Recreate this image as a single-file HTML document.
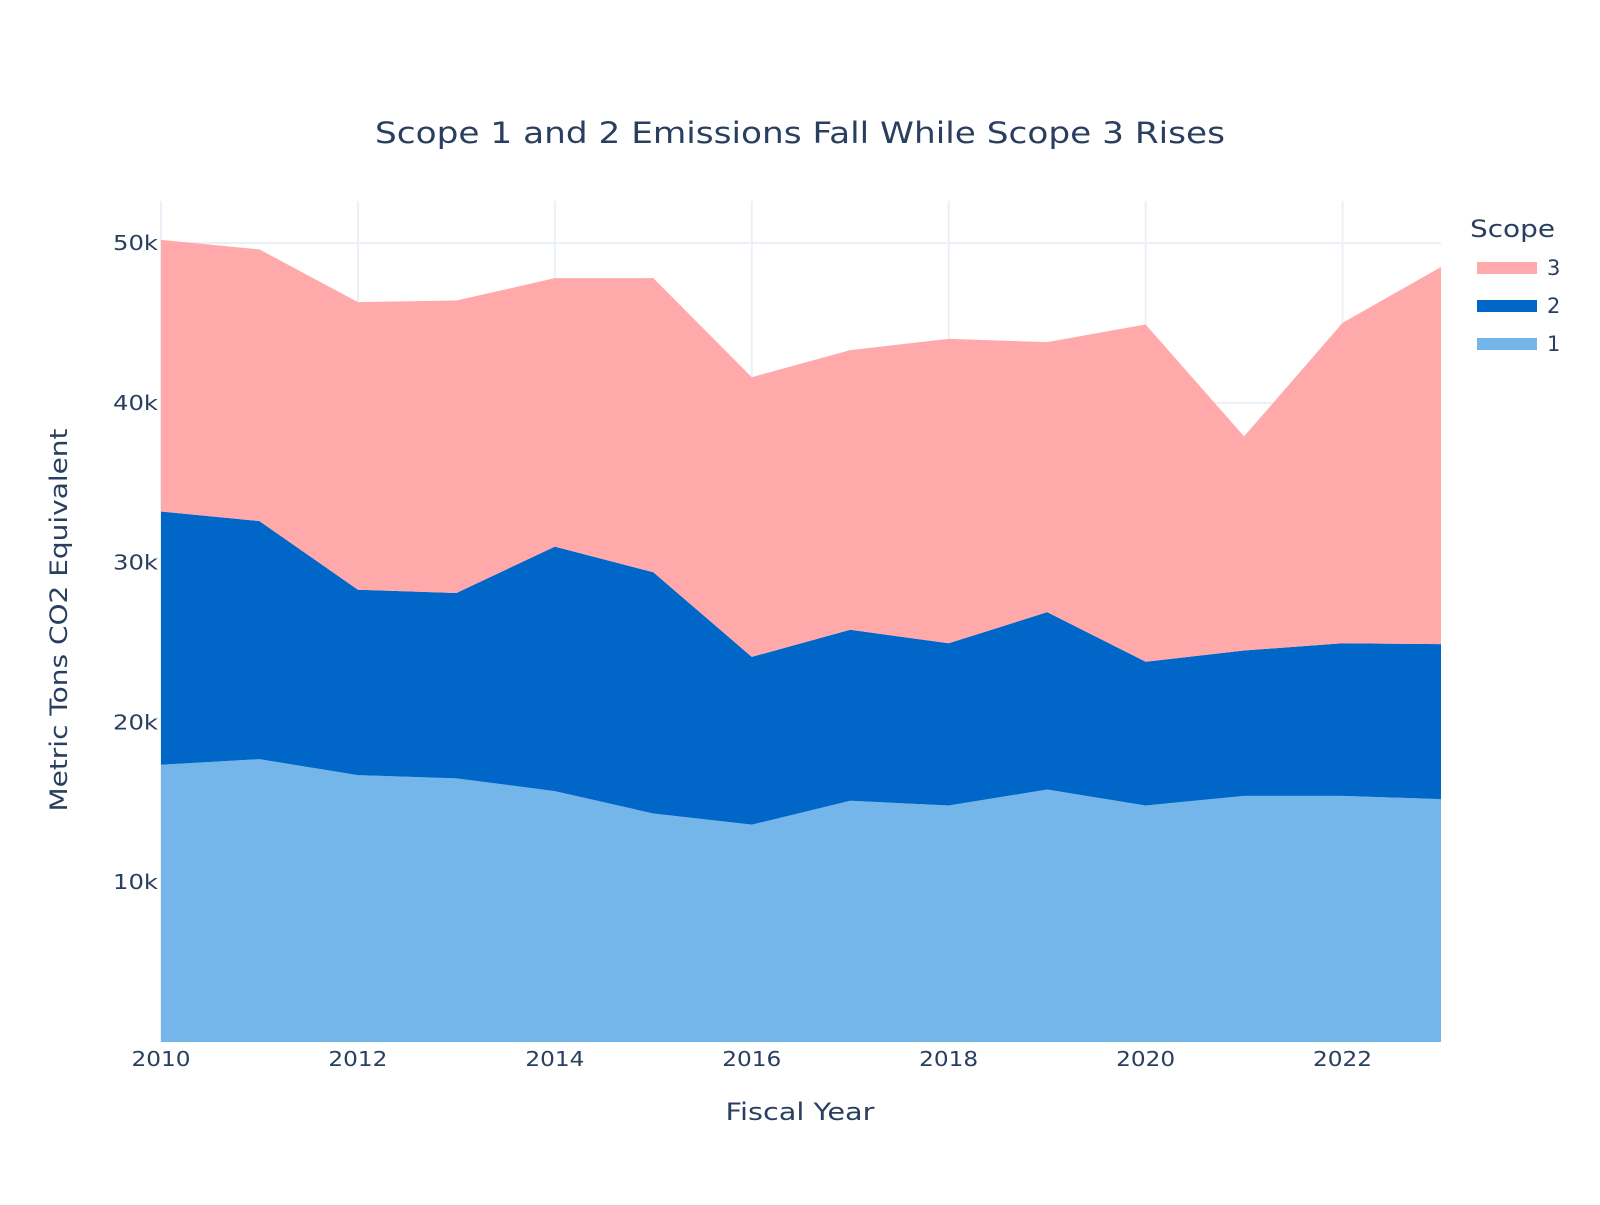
<!DOCTYPE html>
<html><head><meta charset="utf-8"><style>
body{margin:0;background:#fff;}
svg text{font-family:"DejaVu Sans","Liberation Sans",sans-serif;fill:#2a3f5f;}
</style></head><body>
<svg id="chart" width="1600" height="1200" viewBox="0 0 1600 1200" xmlns="http://www.w3.org/2000/svg">
<rect x="0" y="0" width="1600" height="1200" fill="#fff"/>
<g id="grid"></g>
<g id="areas"></g>
<g id="axes"></g>
<text x="800" y="143" text-anchor="middle" font-size="29" textLength="850" lengthAdjust="spacingAndGlyphs">Scope 1 and 2 Emissions Fall While Scope 3 Rises</text>
<text x="800" y="1120" text-anchor="middle" font-size="24" textLength="149" lengthAdjust="spacingAndGlyphs">Fiscal Year</text>
<text x="0" y="0" transform="translate(67,620) rotate(-90)" text-anchor="middle" font-size="24" textLength="383" lengthAdjust="spacingAndGlyphs">Metric Tons CO2 Equivalent</text>
<g id="legend"></g>
</svg>
<script>
const years = [2010,2011,2012,2013,2014,2015,2016,2017,2018,2019,2020,2021,2022,2023];
const scope1 = [17350,17700,16700,16500,15700,14300,13600,15100,14800,15800,14800,15400,15400,15200];
const scope2 = [15850,14900,11600,11600,15300,15100,10500,10700,10150,11100,9000,9100,9550,9700];
const scope3 = [17000,17000,18000,18300,16800,18400,17500,17500,19050,16900,21100,13400,20050,23600];
const yTicks = [10000,20000,30000,40000,50000];
const yTickLabels = ["10k","20k","30k","40k","50k"];
const xTicks = [2010,2012,2014,2016,2018,2020,2022];

const NS="http://www.w3.org/2000/svg";
const L=161,R=1441,T=201,B=1042;
const xMin=2010,xMax=2023,yMax=52630;
function xs(v){return L+(v-xMin)/(xMax-xMin)*(R-L);}
function ys(v){return B-v/yMax*(B-T);}
function mk(tag,attrs,parent){const e=document.createElementNS(NS,tag);for(const k in attrs)e.setAttribute(k,attrs[k]);parent.appendChild(e);return e;}

const grid=document.getElementById('grid');
yTicks.forEach(v=>{
  const l=mk('line',{x1:L,x2:R,y1:ys(v),y2:ys(v),stroke:'#ebf0f8','stroke-width':2},grid);
  
  
});
xTicks.forEach(v=>{
  const l=mk('line',{x1:xs(v),x2:xs(v),y1:T,y2:B,stroke:'#ebf0f8','stroke-width':2},grid);
  
  
});

const series=[{name:'1',vals:scope1,color:'#74b5ea'},{name:'2',vals:scope2,color:'#0067c8'},{name:'3',vals:scope3,color:'#ffa9ab'}];
const areas=document.getElementById('areas');
let base=years.map(()=>0);
series.forEach(s=>{
  const top=base.map((b,i)=>b+s.vals[i]);
  let d='M'+years.map((y,i)=>xs(y)+','+ys(top[i])).join(' L');
  for(let i=years.length-1;i>=0;i--) d+=' L'+xs(years[i])+','+ys(base[i]);
  d+=' Z';
  const p=mk('path',{d:d,fill:s.color,stroke:'none'},areas);
  
  
  base=top;
});

const axes=document.getElementById('axes');
yTicks.forEach((v,i)=>{
  const t=mk('text',{x:113,y:ys(v)+7,'font-size':20,textLength:45,lengthAdjust:'spacingAndGlyphs'},axes);
  t.textContent=yTickLabels[i];
  
  
});
xTicks.forEach(v=>{
  const t=mk('text',{x:xs(v)-29.5,y:1066,'font-size':20,textLength:59,lengthAdjust:'spacingAndGlyphs'},axes);
  t.textContent=String(v);
  
  
});

const lg=document.getElementById('legend');
const lt=mk('text',{x:1470,y:237,'font-size':24,textLength:85,lengthAdjust:'spacingAndGlyphs'},lg);
lt.textContent='Scope';


[series[2],series[1],series[0]].forEach((s,i)=>{
  const y=268+i*38;
  const g=mk('g',{},lg);
  
  
  const r=mk('rect',{x:1477,y:y-6,width:60,height:12,fill:s.color},g);
  
  
  const t=mk('text',{x:1547,y:y+7,'font-size':21},g);
  t.textContent=s.name;
  
  
});
</script>
</body></html>
